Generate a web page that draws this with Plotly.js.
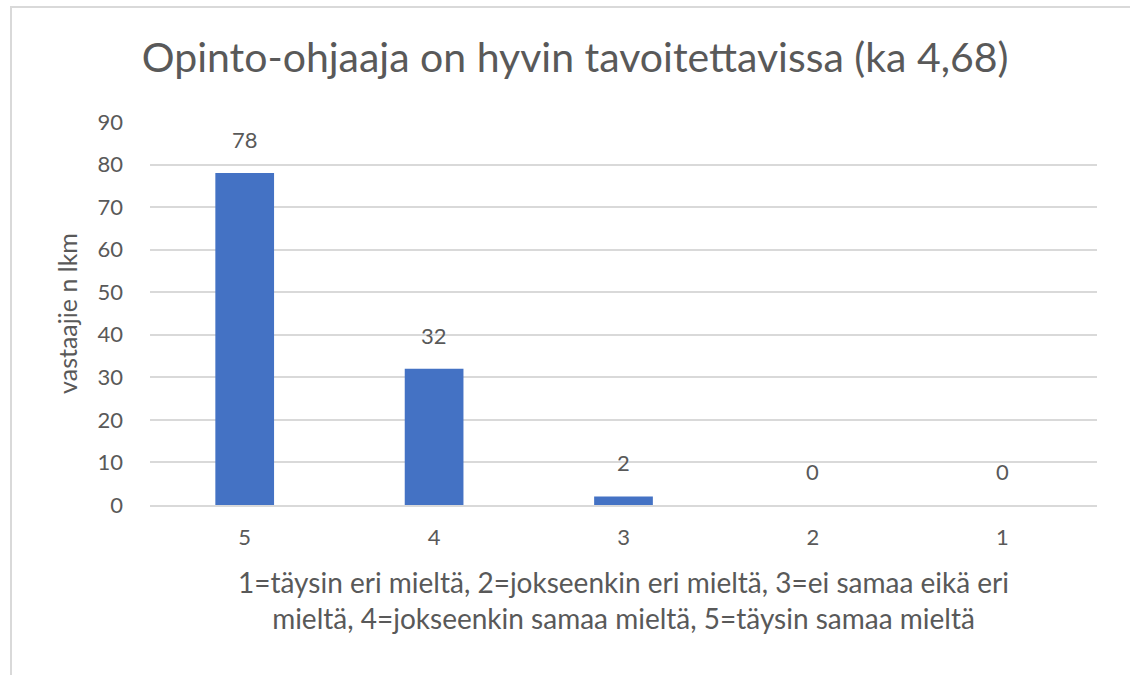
<!DOCTYPE html>
<html>
<head>
<meta charset="utf-8">
<script src="https://cdn.plot.ly/plotly-3.0.1.min.js"></script>
<style>
  html, body { margin: 0; padding: 0; background: #fff; }
  #frame { position: absolute; left: 10px; top: 6px; width: 1130px; height: 680px;
           border-left: 2px solid #d9d9d9; border-top: 2px solid #d9d9d9; box-sizing: border-box; }
  #chart { position: absolute; left: 0; top: 0; width: 1130px; height: 675px; }
</style>
</head>
<body>
<div id="frame"></div>
<div id="chart"></div>
<script>
const categories = ["5", "4", "3", "2", "1"];
const counts = [78, 32, 2, 0, 0];
const chartTitle = "Opinto-ohjaaja on hyvin tavoitettavissa (ka 4,68)";
const yTitle = "vastaajie n lkm";
const xTitle = "1=täysin eri mieltä, 2=jokseenkin eri mieltä, 3=ei samaa eikä eri<br>mieltä, 4=jokseenkin samaa mieltä, 5=täysin samaa mieltä";
const yTicks = [0, 10, 20, 30, 40, 50, 60, 70, 80, 90];

const FONT = "Lato, 'Open Sans', sans-serif";
const GRAY = "#595959";

const trace = {
  type: "bar",
  x: categories,
  y: counts,
  marker: { color: "#4472C4" },
  width: 0.31,
  hoverinfo: "x+y"
};

const annotations = categories.map((c, i) => ({
  x: i, y: counts[i], xref: "x", yref: "y",
  text: String(counts[i]),
  showarrow: false, yanchor: "bottom", yshift: 18,
  font: { family: FONT, size: 22, color: GRAY }
}));

const layout = {
  width: 1130, height: 675,
  paper_bgcolor: "rgba(0,0,0,0)",
  plot_bgcolor: "rgba(0,0,0,0)",
  margin: { l: 150, r: 33, t: 122, b: 170, autoexpand: false },
  showlegend: false,
  title: {
    text: chartTitle,
    x: 0.509, xanchor: "center",
    y: 0.914, yanchor: "middle", yref: "container",
    font: { family: FONT, size: 41, color: GRAY }
  },
  xaxis: {
    type: "category",
    range: [-0.5, 4.5],
    showgrid: false,
    showline: true, linecolor: "#d9d9d9", linewidth: 2,
    ticks: "", ticklabelstandoff: 12,
    tickfont: { family: FONT, size: 22, color: GRAY },
    title: { text: xTitle, standoff: 24, font: { family: FONT, size: 28, color: GRAY } },
    automargin: false
  },
  yaxis: {
    range: [0, 90],
    tickvals: yTicks,
    showgrid: true, gridcolor: "#d9d9d9", gridwidth: 2,
    zeroline: false, showline: false,
    ticks: "", ticklabelstandoff: 26,
    tickfont: { family: FONT, size: 22, color: GRAY },
    title: { text: yTitle, standoff: 12, font: { family: FONT, size: 25, color: GRAY } },
    automargin: false
  },
  annotations: annotations
};

Plotly.newPlot("chart", [trace], layout, { displayModeBar: false });
</script>
</body>
</html>
